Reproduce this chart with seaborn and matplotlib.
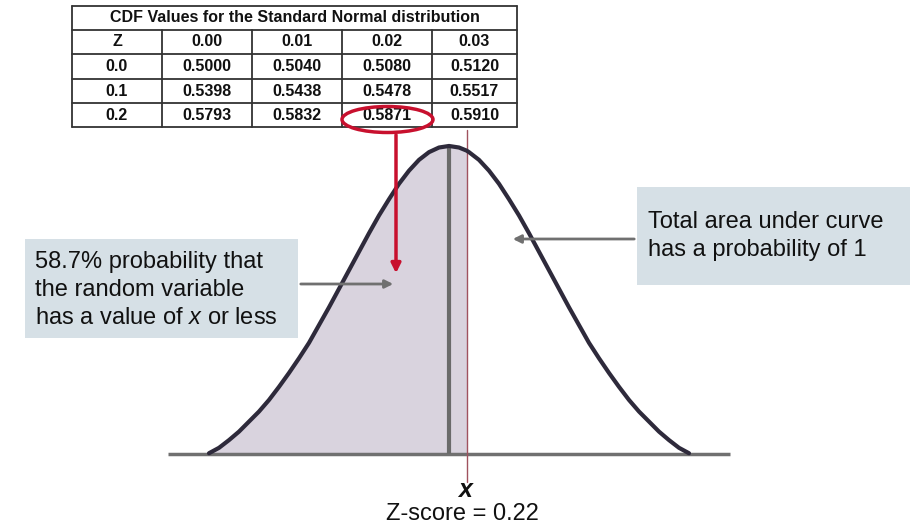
import numpy as np
import pandas as pd
import matplotlib.pyplot as plt
import seaborn as sns
from matplotlib.patches import Ellipse, Rectangle

# --- data (curve height, symmetric about 0) ---
Z_VALUES = [-3.0, -2.875, -2.75, -2.625, -2.5, -2.375, -2.25, -2.125, -2.0, -1.875,
            -1.75, -1.625, -1.5, -1.375, -1.25, -1.125, -1.0, -0.875, -0.75, -0.625,
            -0.5, -0.375, -0.25, -0.125, 0.0, 0.125, 0.22, 0.25, 0.375, 0.5,
            0.625, 0.75, 0.875, 1.0, 1.125, 1.25, 1.375, 1.5, 1.625, 1.75,
            1.875, 2.0, 2.125, 2.25, 2.375, 2.5, 2.625, 2.75, 2.875, 3.0]
DENSITY = [0.001, 0.008, 0.018, 0.029, 0.042, 0.055, 0.070, 0.087, 0.105, 0.124,
           0.144, 0.167, 0.190, 0.214, 0.238, 0.262, 0.286, 0.309, 0.330, 0.350,
           0.367, 0.381, 0.391, 0.397, 0.399, 0.397, 0.393, 0.391, 0.381, 0.367,
           0.350, 0.330, 0.309, 0.286, 0.262, 0.238, 0.214, 0.190, 0.167, 0.144,
           0.124, 0.105, 0.087, 0.070, 0.055, 0.042, 0.029, 0.018, 0.008, 0.001]
Z_SCORE = 0.22

TABLE_TITLE = "CDF Values for the Standard Normal distribution"
COL_LABELS = ["Z", "0.00", "0.01", "0.02", "0.03"]
ROW_LABELS = ["0.0", "0.1", "0.2"]
CDF_VALUES = [["0.5000", "0.5040", "0.5080", "0.5120"],
              ["0.5398", "0.5438", "0.5478", "0.5517"],
              ["0.5793", "0.5832", "0.5871", "0.5910"]]

LEFT_TEXT = ["58.7% probability that", "the random variable", "has a value of $x$ or less"]
RIGHT_TEXT = ["Total area under curve", "has a probability of 1"]

# --- style ---
sns.set_theme(style="white")
plt.rcParams['font.family'] = ['Liberation Sans', 'DejaVu Sans']
plt.rcParams['mathtext.fontset'] = 'custom'
plt.rcParams['mathtext.rm'] = 'Liberation Sans'
plt.rcParams['mathtext.it'] = 'Liberation Sans:italic'
plt.rcParams['mathtext.bf'] = 'Liberation Sans:bold'

CURVE = '#2e2a3b'
SHADE = '#d9d3de'
BOX = '#d6e0e6'
GRAY = '#707070'
RED = '#c8102e'

fig = plt.figure(figsize=(9.2, 5.28), dpi=100)

# main axes in data units (z, density)
ax = fig.add_axes([0, 0, 1, 1])
ax.set_xlim(-449 / 80, 471 / 80)
ax.set_ylim(-74 / 772, 454 / 772)
ax.axis('off')

df = pd.DataFrame({"z": Z_VALUES, "density": DENSITY})
left = df[df["z"] <= Z_SCORE]
ax.fill_between(left["z"], 0, left["density"], color=SHADE, lw=0, zorder=1)
ax.hlines(0, -3.51, 3.51, color=GRAY, lw=2.5, zorder=2)
ax.vlines(0, 0, max(DENSITY), color='#6a6a6a', lw=3, zorder=3)
ax.axvline(Z_SCORE, ymin=46 / 528, ymax=398 / 528, color='#a0525f', lw=1, zorder=3)
sns.lineplot(data=df, x="z", y="density", ax=ax, color=CURVE, lw=3, zorder=4)
ax.set_xlabel("")
ax.set_ylabel("")

# overlay in pixel units for the table and call-outs
ov = fig.add_axes([0, 0, 1, 1])
ov.set_xlim(0, 920)
ov.set_ylim(528, 0)
ov.axis('off')
ov.patch.set_alpha(0)

# table
col_x = [72, 162, 252, 342, 432, 517]
row_y = [6, 30, 54, 79, 103, 127]
lc = '#333333'
for y in row_y:
    ov.plot([col_x[0], col_x[-1]], [y, y], color=lc, lw=1.3)
for i, x in enumerate(col_x):
    y0 = row_y[0] if i in (0, len(col_x) - 1) else row_y[1]
    ov.plot([x, x], [y0, row_y[-1]], color=lc, lw=1.3)

tkw = dict(ha='center', va='center', fontsize=11.5, fontweight='bold', color='#111111')
ov.text((col_x[0] + col_x[-1]) / 2, (row_y[0] + row_y[1]) / 2, TABLE_TITLE, **tkw)
for j, lab in enumerate(COL_LABELS):
    ov.text((col_x[j] + col_x[j + 1]) / 2, (row_y[1] + row_y[2]) / 2, lab, **tkw)
for i, rl in enumerate(ROW_LABELS):
    yc = (row_y[i + 2] + row_y[i + 3]) / 2
    ov.text((col_x[0] + col_x[1]) / 2, yc, rl, **tkw)
    for j, v in enumerate(CDF_VALUES[i]):
        ov.text((col_x[j + 1] + col_x[j + 2]) / 2, yc, v, **tkw)

# red highlight
ov.add_patch(Ellipse((387.5, 119.5), 91, 26, fill=False, ec=RED, lw=2.5, zorder=6))
ov.annotate("", xy=(396, 276), xytext=(396, 132),
            arrowprops=dict(arrowstyle='-|>', color=RED, lw=2.5, mutation_scale=14), zorder=6)

# left call-out
ov.add_patch(Rectangle((25, 239), 273, 99, fc=BOX, ec='none', zorder=5))
for k, line in enumerate(LEFT_TEXT):
    ov.text(35, 262 + 28 * k, line, ha='left', va='center', fontsize=17, color='#111111', zorder=6)
ov.annotate("", xy=(396, 284), xytext=(298, 284),
            arrowprops=dict(arrowstyle='-|>', color=GRAY, lw=2, mutation_scale=12), zorder=6)

# right call-out
ov.add_patch(Rectangle((637, 187), 273, 98, fc=BOX, ec='none', zorder=5))
for k, line in enumerate(RIGHT_TEXT):
    ov.text(648, 222 + 28 * k, line, ha='left', va='center', fontsize=17, color='#111111', zorder=6)
ov.annotate("", xy=(510, 239), xytext=(637, 239),
            arrowprops=dict(arrowstyle='-|>', color=GRAY, lw=2, mutation_scale=12), zorder=6)

# x marker labels
ov.text(465, 490, "x", ha='center', va='center', fontsize=18, fontweight='bold',
        fontstyle='italic', color='#111111')
ov.text(462, 514, f"Z-score = {Z_SCORE}", ha='center', va='center', fontsize=17, color='#111111')

fig.savefig("out.png", dpi=100)
